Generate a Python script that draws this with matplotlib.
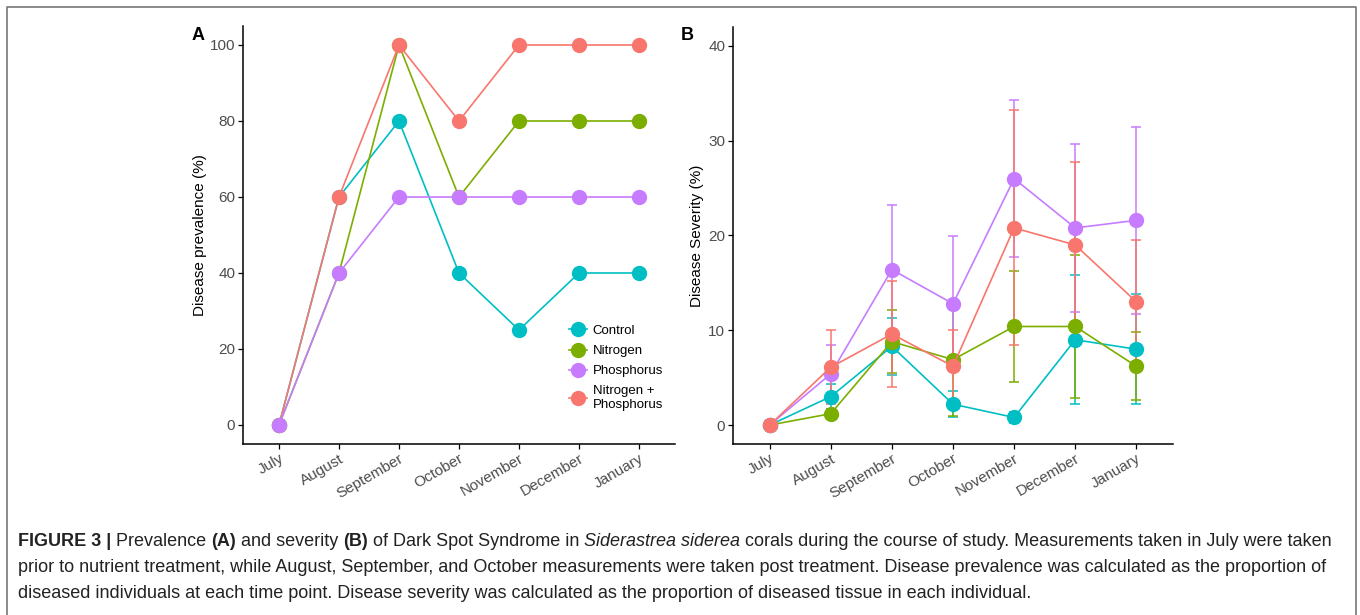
import matplotlib
matplotlib.use('Agg')
import matplotlib.pyplot as plt
from matplotlib.lines import Line2D

plt.rcParams['font.family'] = ['Liberation Sans', 'DejaVu Sans']

months = ['July', 'August', 'September', 'October', 'November', 'December', 'January']
groups = ['Control', 'Nitrogen', 'Phosphorus', 'Nitrogen +\nPhosphorus']
colors = ['#00BFC4', '#7CAE00', '#C77CFF', '#F8766D']

# panel A: prevalence (%)
prev_control = [0, 60, 80, 40, 25, 40, 40]
prev_nitrogen = [0, 40, 100, 60, 80, 80, 80]
prev_phosphorus = [0, 40, 60, 60, 60, 60, 60]
prev_np = [0, 60, 100, 80, 100, 100, 100]

# panel B: severity (%) with error
sev_control = [0, 3.0, 8.3, 2.2, 0.8, 9.0, 8.0]
err_control = [0, 1.3, 3.0, 1.4, 0.6, 6.8, 5.8]
sev_nitrogen = [0, 1.2, 8.8, 6.9, 10.4, 10.4, 6.2]
err_nitrogen = [0, 0.5, 3.3, 5.9, 5.9, 7.5, 3.6]
sev_phosphorus = [0, 5.4, 16.4, 12.8, 26.0, 20.8, 21.6]
err_phosphorus = [0, 3.0, 6.8, 7.1, 8.3, 8.9, 9.9]
sev_np = [0, 6.1, 9.6, 6.2, 20.8, 19.0, 13.0]
err_np = [0, 3.9, 5.6, 3.8, 12.4, 8.8, 6.5]

W, H = 1360, 615
fig = plt.figure(figsize=(W / 100, H / 100), dpi=100)


def px_axes(l, t, r, b):
    return fig.add_axes([l / W, 1 - b / H, (r - l) / W, (b - t) / H])


def style_axes(ax):
    for s in ['top', 'right']:
        ax.spines[s].set_visible(False)
    for s in ['left', 'bottom']:
        ax.spines[s].set_linewidth(1.1)
    ax.tick_params(axis='both', labelsize=11, labelcolor='#4D4D4D', length=3.5, width=0.9, pad=2)
    ax.set_xticks(range(len(months)))
    ax.set_xticklabels(months, rotation=30, ha='right', rotation_mode='anchor')
    ax.set_xlim(-0.6, len(months) - 0.4)


x = list(range(len(months)))

# ---- panel A
axA = px_axes(243, 26, 675, 444)
style_axes(axA)
prev = [prev_control, prev_nitrogen, prev_phosphorus, prev_np]
for i in [0, 1, 3, 2]:
    axA.plot(x, prev[i], color=colors[i], lw=1.2, marker='o', ms=10, mec=colors[i])
axA.set_ylim(-5, 105)
axA.set_yticks([0, 20, 40, 60, 80, 100])
axA.set_ylabel('Disease prevalence (%)', fontsize=11, labelpad=2)

handles = [Line2D([], [], color=c, lw=1.2, marker='o', ms=10) for c in colors]
axA.legend(handles, groups, loc='upper left', bbox_to_anchor=(557 / W, 1 - 313 / H),
           bbox_transform=fig.transFigure, frameon=False, fontsize=9.5,
           handlelength=1.4, handletextpad=0.4, labelspacing=0.6)
fig.text(192 / W, 1 - 35 / H, 'A', fontsize=13, fontweight='bold', va='center')

# ---- panel B
axB = px_axes(733, 27, 1173, 444)
style_axes(axB)
sev = [sev_control, sev_nitrogen, sev_phosphorus, sev_np]
err = [err_control, err_nitrogen, err_phosphorus, err_np]
for i in [0, 1, 2, 3]:
    axB.errorbar(x, sev[i], yerr=err[i], color=colors[i], lw=1.2, elinewidth=1.1,
                 capsize=3.8, capthick=1.1, marker='o', ms=10, mec=colors[i])
axB.set_ylim(-2, 42)
axB.set_yticks([0, 10, 20, 30, 40])
axB.set_ylabel('Disease Severity (%)', fontsize=11, labelpad=3)
fig.text(681 / W, 1 - 35 / H, 'B', fontsize=13, fontweight='bold', va='center')

# ---- frame
fig.add_artist(Line2D([7 / W, 7 / W, 1356 / W, 1356 / W], [0, 1 - 7 / H, 1 - 7 / H, 0],
                      transform=fig.transFigure, color='#777777', lw=1.2))

# ---- caption
caption = [
    [('FIGURE 3 | ', 'bold', 'normal'), ('Prevalence ', 'normal', 'normal'), ('(A)', 'bold', 'normal'),
     (' and severity ', 'normal', 'normal'), ('(B)', 'bold', 'normal'),
     (' of Dark Spot Syndrome in ', 'normal', 'normal'), ('Siderastrea siderea', 'normal', 'italic'),
     (' corals during the course of study. Measurements taken in July were taken', 'normal', 'normal')],
    [('prior to nutrient treatment, while August, September, and October measurements were taken post treatment. '
      'Disease prevalence was calculated as the proportion of', 'normal', 'normal')],
    [('diseased individuals at each time point. Disease severity was calculated as the proportion of diseased '
      'tissue in each individual.', 'normal', 'normal')],
]
renderer = fig.canvas.get_renderer()
for k, line in enumerate(caption):
    xpos = 18
    ypos = 546 + 26 * k
    for txt, wgt, sty in line:
        t = fig.text(xpos / W, 1 - ypos / H, txt, fontsize=13,
                     fontweight=wgt, style=sty, va='baseline', ha='left', color='#222222')
        bb = t.get_window_extent(renderer=renderer)
        xpos += bb.width

fig.savefig('out.png', dpi=100)
